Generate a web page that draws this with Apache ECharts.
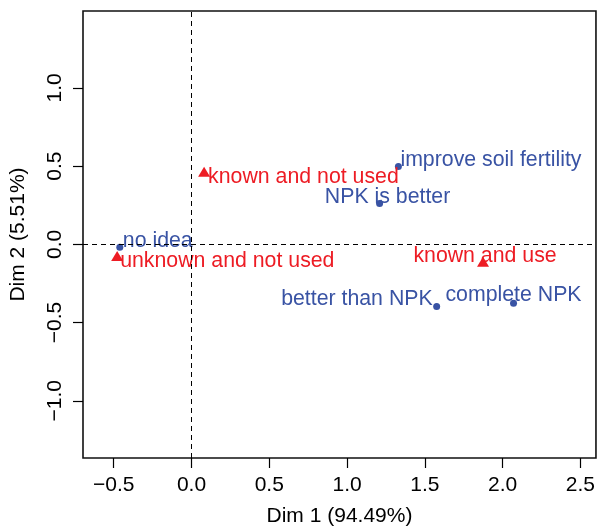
<!DOCTYPE html>
<html>
<head>
<meta charset="utf-8">
<script src="https://cdn.jsdelivr.net/npm/echarts@6/dist/echarts.min.js"></script>
<style>
  html, body { margin: 0; padding: 0; background: #fff; }
  #chart { width: 598px; height: 532px; }
</style>
</head>
<body>
<div id="chart"></div>
<script>
// row points (blue dots)
var rowNames = ['no idea', 'improve soil fertility', 'NPK is better', 'better than NPK', 'complete NPK'];
var rowX = [-0.461, 1.330, 1.209, 1.576, 2.070];
var rowY = [-0.019, 0.497, 0.261, -0.397, -0.376];

// column points (red triangles)
var colNames = ['unknown and not used', 'known and not used', 'known and use'];
var colX = [-0.478, 0.081, 1.874];
var colY = [-0.075, 0.465, -0.111];

// tick labels
var xTicks = [-0.5, 0, 0.5, 1, 1.5, 2, 2.5];
var yTicks = [-1, -0.5, 0, 0.5, 1];

var xName = 'Dim 1 (94.49%)';
var yName = 'Dim 2 (5.51%)';

// label placement (align, offset in px from the point)
var rowLabelPos = [['left', [3, -6]], ['left', [2, -7]], ['center', [8, -6]], ['right', [-4, -7]], ['center', [0, -8]]];
var colLabelPos = [['left', [3, 5]], ['left', [4, 5]], ['center', [2, -6]]];

var FONT = "'Liberation Sans', Arial, sans-serif";
var BLUE = '#3953a4';
var RED = '#ed1c24';

function fmt(v) {
    return v.toFixed(1).replace('-', '\u2212');
}

function buildData(names, xs, ys, pos) {
    return names.map(function (n, i) {
        return {
            name: n,
            value: [xs[i], ys[i]],
            label: { align: pos[i][0], offset: pos[i][1] }
        };
    });
}

var chart = echarts.init(document.getElementById('chart'));

var axisCommon = {
    type: 'value',
    nameLocation: 'middle',
    nameTextStyle: { fontFamily: FONT, fontSize: 21, color: '#000' },
    axisLine: { show: false, onZero: false },
    splitLine: { show: false },
    axisTick: { show: true, inside: false, length: 10, lineStyle: { color: '#000', width: 1.2 } },
};

chart.setOption({
    animation: false,
    grid: {
        left: 83, top: 11, right: -4, bottom: 72,
        show: true, borderColor: '#111', borderWidth: 1.6,
        containLabel: false
    },
    xAxis: Object.assign({}, axisCommon, {
        min: -0.6975, max: 2.6, name: xName, nameGap: 48,
        axisTick: Object.assign({}, axisCommon.axisTick, { customValues: xTicks }),
        axisLabel: {
            customValues: xTicks, margin: 17, formatter: fmt,
            fontFamily: FONT, fontSize: 21, color: '#000'
        }
    }),
    yAxis: Object.assign({}, axisCommon, {
        min: -1.366, max: 1.492, name: yName, nameGap: 54,
        axisTick: Object.assign({}, axisCommon.axisTick, { customValues: yTicks }),
        axisLabel: {
            customValues: yTicks, margin: 17, rotate: 90, formatter: fmt,
            fontFamily: FONT, fontSize: 21, color: '#000'
        }
    }),
    series: [
        {
            type: 'scatter',
            symbol: 'circle',
            symbolSize: 7,
            itemStyle: { color: BLUE, opacity: 1 },
            label: {
                show: true, position: 'inside', verticalAlign: 'middle',
                formatter: '{b}', fontFamily: FONT, fontSize: 21.3, color: BLUE
            },
            data: buildData(rowNames, rowX, rowY, rowLabelPos),
            markLine: {
                silent: true,
                symbol: 'none',
                label: { show: false },
                lineStyle: { color: '#000', width: 1, type: [5, 4], opacity: 1 },
                data: [{ xAxis: 0 }, { yAxis: 0 }]
            },
            z: 3
        },
        {
            type: 'scatter',
            symbol: 'triangle',
            symbolSize: [12, 10],
            itemStyle: { color: RED, opacity: 1 },
            label: {
                show: true, position: 'inside', verticalAlign: 'middle',
                formatter: '{b}', fontFamily: FONT, fontSize: 21.3, color: RED
            },
            data: buildData(colNames, colX, colY, colLabelPos),
            z: 3
        }
    ]
});
</script>
</body>
</html>
